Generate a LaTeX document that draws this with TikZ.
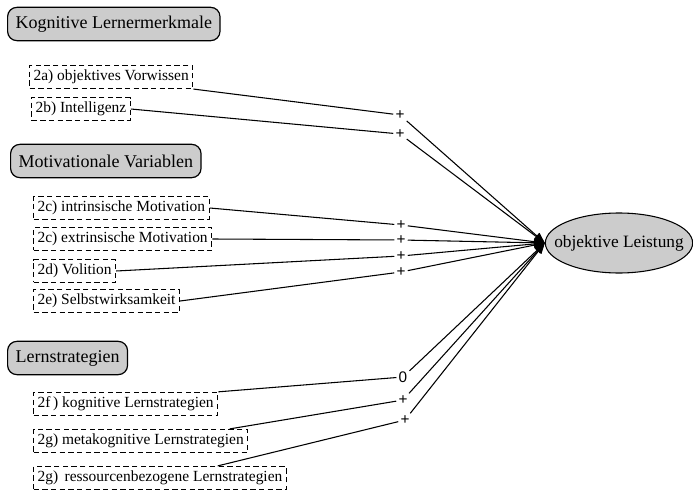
\documentclass[tikz,border=0pt]{standalone}
\usepackage{fontspec}
\setmainfont{Liberation Serif}
\newfontfamily\zeichenfont{Liberation Sans}
\usetikzlibrary{arrows.meta,positioning,shapes.geometric}

\tikzset{
  kopf/.style={draw, line width=0.9pt, rounded corners=7pt, fill=gray!40, minimum height=25pt, inner xsep=6pt, anchor=west, font=\fontsize{13.5}{15}\selectfont},
  merkmal/.style={draw, dash pattern=on 4pt off 2.5pt, line width=0.9pt, minimum height=17pt, inner xsep=3pt, anchor=west, font=\fontsize{11.6}{13}\selectfont},
  zeichen/.style={inner sep=1.5pt, font=\zeichenfont\fontsize{11.5}{12}\selectfont},
  pfeil/.style={line width=0.8pt, -{Triangle[length=8pt,width=6pt]}},
}

\begin{document}
\begin{tikzpicture}[x=0.75pt,y=-0.75pt]
  \useasboundingbox (0,0) rectangle (693,492);

  % Gruppen
  \node[kopf] (kog) at (7,24) {Kognitive Lernermerkmale};
  \node[kopf] (mot) at (10,161) {Motivationale Variablen};
  \node[kopf] (lern) at (7,358) {Lernstrategien};

  % Merkmale
  \node[merkmal] (a) at (29,77) {2a) objektives Vorwissen};
  \node[merkmal] (b) at (31,109) {2b) Intelligenz};
  \node[merkmal] (c1) at (33,208) {2c) intrinsische Motivation};
  \node[merkmal] (c2) at (33,239) {2c) extrinsische Motivation};
  \node[merkmal] (d) at (33,271) {2d) Volition};
  \node[merkmal] (e) at (33,301) {2e) Selbstwirksamkeit};
  \node[merkmal] (f) at (33,404) {2f\,) kognitive Lernstrategien};
  \node[merkmal] (g1) at (33,441) {2g) metakognitive Lernstrategien};
  \node[merkmal] (g2) at (33,478) {2g)\, ressourcenbezogene Lernstrategien};

  % Ziel
  \node[ellipse, draw, line width=0.8pt, fill=gray!40, inner xsep=-9.5pt, inner ysep=0pt, minimum height=45pt, font=\fontsize{13}{15}\selectfont] (leistung) at (619,243) {objektive Leistung};

  % Vorzeichen
  \node[zeichen] (pa) at (400,115) {+};
  \node[zeichen] (pb) at (400,134) {+};
  \node[zeichen] (pc1) at (401,225) {+};
  \node[zeichen] (pc2) at (401,240) {+};
  \node[zeichen] (pd) at (401,256) {+};
  \node[zeichen] (pe) at (401,272) {+};
  \node[zeichen] (pf) at (403,377) {0};
  \node[zeichen] (pg1) at (403,400) {+};
  \node[zeichen] (pg2) at (405,420) {+};

  % Pfade
  \draw[pfeil] (a.south east) -- (pa) -- (leistung.west);
  \draw[pfeil] (b.east) -- (pb) -- (leistung.west);
  \draw[pfeil] (c1.east) -- (pc1) -- (leistung.west);
  \draw[pfeil] (c2.east) -- (pc2) -- (leistung.west);
  \draw[pfeil] (d.east) -- (pd) -- (leistung.west);
  \draw[pfeil] (e.east) -- (pe) -- (leistung.west);
  \draw[pfeil] (f.north east) -- (pf) -- (leistung.west);
  \draw[pfeil] ([xshift=-14pt]g1.north east) -- (pg1) -- (leistung.west);
  \draw[pfeil] ([xshift=-52pt]g2.north east) -- (pg2) -- (leistung.west);
\end{tikzpicture}
\end{document}
